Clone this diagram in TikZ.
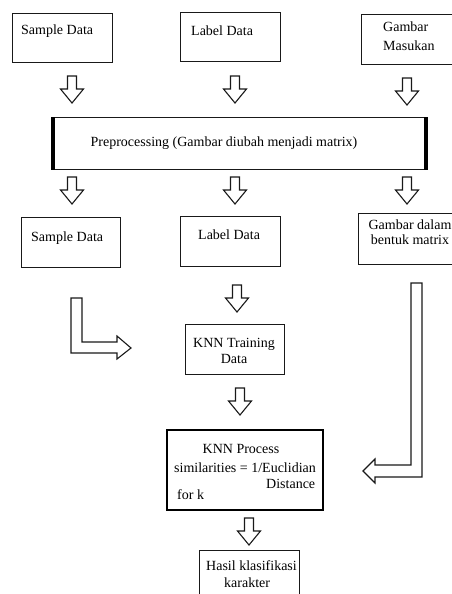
\documentclass[tikz,border=0pt]{standalone}
\usepackage{fontspec}
\setmainfont{Liberation Serif}
\begin{document}
\begin{tikzpicture}[x=1pt,y=-1pt,
  box/.style={draw=black!90,line width=1.1pt,inner sep=0pt,anchor=north west},
  txt/.style={font=\fontsize{14}{16}\selectfont,inner sep=0pt,text=black},
  blk/.style={draw=black!90,line width=1.1pt,fill=white,line join=miter},
  hdown/.pic={\draw[blk] (-4.5,0) -- (4.5,0) -- (4.5,13) -- (11.5,13) -- (0,27) -- (-11.5,13) -- (-4.5,13) -- cycle;}
]
\useasboundingbox (0,0) rectangle (452,594);
\fill[white] (0,0) rectangle (452,594);

% top row boxes
\node[box,minimum width=100pt,minimum height=49pt] (sd1) at (12,13) {};
\node[box,minimum width=100pt,minimum height=49pt] (ld1) at (180,12) {};
\node[box,minimum width=100pt,minimum height=50pt] (gm1) at (361,14) {};
\node[txt,anchor=base west] (sd1t) at (21,34.5) {Sample Data};
\node[txt,anchor=base west] (ld1t) at (191,36) {Label Data};
\node[txt,anchor=base west] (gm1a) at (383,32) {Gambar};
\node[txt,anchor=base west] (gm1b) at (383,51) {Masukan};

% arrows to preprocessing
\pic at (72,76) {hdown};
\pic at (235,76) {hdown};
\pic at (407,78) {hdown};

% preprocessing
\node[box,minimum width=372pt,minimum height=52pt] (pp) at (53,117) {};
\draw[line width=4pt,black] (pp.north west) -- (pp.south west);
\draw[line width=4pt,black] (pp.north east) -- (pp.south east);
\node[txt,anchor=base] (ppt) at (224,146.5) {Preprocessing (Gambar diubah menjadi matrix)};

% arrows down
\pic at (72,177) {hdown};
\pic at (235,177) {hdown};
\pic at (407,177) {hdown};

% second row
\node[box,minimum width=99pt,minimum height=50pt] (sd2) at (21,217) {};
\node[box,minimum width=100pt,minimum height=50pt] (ld2) at (180,216) {};
\node[box,minimum width=100pt,minimum height=51pt] (gm2) at (358,213) {};
\node[txt,anchor=base west] (sd2t) at (31,241) {Sample Data};
\node[txt,anchor=base west] (ld2t) at (198,239) {Label Data};
\node[txt,anchor=base] (gm2a) at (410,229) {Gambar dalam};
\node[txt,anchor=base] (gm2b) at (410,244.5) {bentuk matrix};

% label -> knn training
\pic at (237,285) {hdown};

% L arrow from sample data
\draw[blk] (71,298) -- (82,298) -- (82,342) -- (117,342) -- (117,336) -- (131,348)
  -- (117,359) -- (117,353) -- (71,353) -- cycle;

% KNN training
\node[box,minimum width=99pt,minimum height=50pt] (knnT) at (185,324) {};
\node[txt,anchor=base] (knnTa) at (234,347) {KNN Training};
\node[txt,anchor=base] (knnTb) at (234,363) {Data};

\pic at (240,388) {hdown};

% right long arrow
\draw[blk] (411,283) -- (422,283) -- (422,477) -- (375,477) -- (375,483) -- (363,471)
  -- (375,459) -- (375,465) -- (411,465) -- cycle;

% KNN process
\node[box,line width=2pt,draw=black,minimum width=156pt,minimum height=80pt] (knnP) at (166,429) {};
\node[txt,anchor=base] (knnPa) at (241,453) {KNN Process};
\node[txt,anchor=base west] (knnPb) at (174,472) {similarities = 1/Euclidian};
\node[txt,anchor=base west] (knnPc) at (266,488) {Distance};
\node[txt,anchor=base west] (knnPd) at (177,499) {for k};

\pic at (249,518) {hdown};

% result
\node[box,minimum width=100pt,minimum height=60pt] (hasil) at (199,550) {};
\node[txt,anchor=base west] (hasila) at (206,570) {Hasil klasifikasi};
\node[txt,anchor=base west] (hasilb) at (224,587) {karakter};
\end{tikzpicture}
\end{document}
